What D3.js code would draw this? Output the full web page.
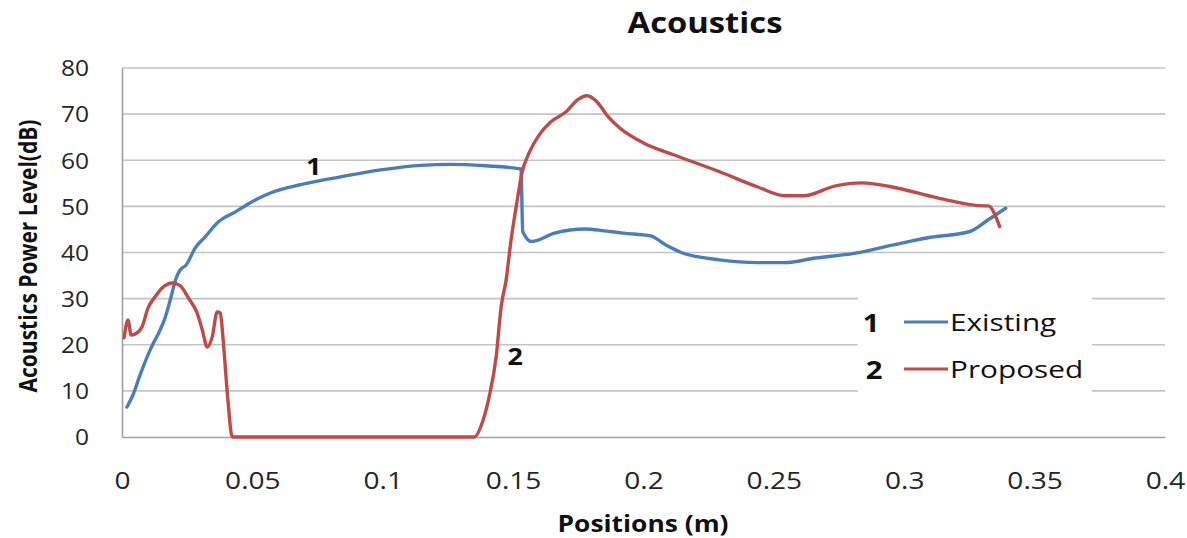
<!DOCTYPE html>
<html><head><meta charset="utf-8">
<script src="https://cdn.jsdelivr.net/npm/d3@7"></script>
<style>
body{margin:0;background:#fff;}
svg{display:block;}
</style></head>
<body>
<svg id="chart" width="1187" height="538"></svg>
<script>
const title = "Acoustics";
const xLabel = "Positions (m)";
const yLabel = "Acoustics Power Level(dB)";
const seriesNames = ["Existing", "Proposed"];
const seriesColors = ["#4a7ebb", "#be4b48"];
const seriesTags = ["1", "2"];
const xTicks = [0, 0.05, 0.1, 0.15, 0.2, 0.25, 0.3, 0.35, 0.4];
const yTicks = [0, 10, 20, 30, 40, 50, 60, 70, 80];

const existingX = [0.0019,0.0042,0.0069,0.0108,0.0146,0.0165,0.0185,0.0208,0.0223,0.0246,0.0281,0.0319,0.0369,0.0435,0.0492,0.0569,0.0685,0.0838,0.0992,0.1146,0.1262,0.1394,0.1530,0.1537,0.1571,0.1659,0.1777,0.185,0.1923,0.2027,0.2086,0.2145,0.2292,0.2438,0.2542,0.266,0.2807,0.2954,0.3101,0.3249,0.3322,0.3389];
const existingY = [6.5,9.1,13.4,18.9,23.2,25.8,29.7,34.5,36.2,37.3,41,43.4,46.6,48.8,50.8,52.9,54.7,56.4,57.9,58.9,59.1,58.8,58.1,44.5,42.4,44.2,45.1,44.7,44.2,43.6,41.6,40,38.4,37.8,37.8,38.8,39.8,41.6,43.3,44.5,47.1,49.6];

const proposedX = [0.0008,0.0023,0.0035,0.005,0.0077,0.01,0.0127,0.0154,0.0192,0.0223,0.0254,0.0288,0.0308,0.0327,0.0346,0.0365,0.0377,0.0388,0.0404,0.0423,0.135,0.1385,0.1408,0.1435,0.1454,0.1473,0.1492,0.1512,0.1534,0.1563,0.16,0.1644,0.1703,0.1747,0.1784,0.1821,0.1865,0.1909,0.1998,0.2115,0.2292,0.2438,0.2542,0.2615,0.2733,0.2837,0.2954,0.3131,0.3308,0.3322,0.3366];
const proposedY = [21.5,25.4,22.1,22.3,23.9,28,30.4,32.3,33.4,32.8,30.2,26.9,23.2,19.5,21.7,27.1,26.9,21,9.5,0,0,3.7,8.7,17.4,28.2,34,42.7,50,57.3,61.8,65.5,68.3,70.5,73.1,74,72.7,69.4,67,63.8,61.2,57.5,54.2,52.3,52.3,54.4,55.1,54.2,51.8,50.1,50.1,45.6];

const tagX = [0.0735, 0.1508];
const tagY = [58.8, 17.5];

const svg = d3.select("#chart");
const margin = {left:122, right:22, top:68, bottom:101};
const W = 1187, H = 538;
const SX = 1.17; // horizontal stretch of the reference text
const x = d3.scaleLinear().domain([0,0.4]).range([margin.left, W - margin.right]);
const y = d3.scaleLinear().domain([0,80]).range([H - margin.bottom, margin.top]);

const font = "'Open Sans','Noto Sans',sans-serif";

// gridlines
svg.append("g").selectAll("line").data(yTicks.filter(d=>d>0)).join("line")
  .attr("x1", x(0)).attr("x2", x(0.4))
  .attr("y1", d=>y(d)).attr("y2", d=>y(d))
  .attr("stroke", "#c4c4c4").attr("stroke-width", 1.6);

// axes
const yAxis = d3.axisLeft(y).tickValues(yTicks).tickSize(0).tickFormat(d3.format("d"));
const gy = svg.append("g").attr("transform", `translate(${x(0)},0)`).call(yAxis);
gy.select(".domain").attr("stroke", "#a0a0a0").attr("stroke-width", 1.6);
gy.selectAll("text").attr("x", 0).attr("dy", null).attr("dominant-baseline", "central")
  .attr("transform", `translate(-33,0) scale(${SX},1)`)
  .attr("font-family", font).attr("font-size", 21).attr("fill", "#262626");

const xAxis = d3.axisBottom(x).tickValues(xTicks).tickSize(0).tickFormat(d => d === 0 ? "0" : String(d));
const gx = svg.append("g").attr("transform", `translate(0,${y(0)})`).call(xAxis);
gx.select(".domain").attr("stroke", "#a0a0a0").attr("stroke-width", 1.6);
gx.selectAll("text").attr("y", 0).attr("dy", null).attr("dominant-baseline", "central")
  .attr("transform", `translate(0,43) scale(${SX},1)`)
  .attr("font-family", font).attr("font-size", 24).attr("fill", "#262626");

// lines
const line = d3.line().x(d=>x(d[0])).y(d=>y(d[1])).curve(d3.curveMonotoneX);
const existing = existingX.map((v,i)=>[v, existingY[i]]);
const proposed = proposedX.map((v,i)=>[v, proposedY[i]]);
[existing, proposed].forEach((data, i) => {
  svg.append("path").datum(data).attr("d", line)
    .attr("fill", "none").attr("stroke", seriesColors[i])
    .attr("stroke-width", 3.4).attr("stroke-linejoin", "round").attr("stroke-linecap", "round");
});

// series tags on chart
svg.append("g").selectAll("text").data(seriesTags).join("text")
  .attr("transform", (d,i)=>`translate(${x(tagX[i])},${y(tagY[i])}) scale(${SX},1)`)
  .attr("text-anchor", "middle").attr("dominant-baseline", "central")
  .attr("font-family", font).attr("font-weight", 700).attr("font-size", 23)
  .attr("fill", "#111").text(d=>d);

// legend
const lg = svg.append("g");
lg.append("rect").attr("x", 858).attr("y", 292).attr("width", 234).attr("height", 104).attr("fill", "#fff");
seriesNames.forEach((name, i) => {
  const cy = 322 + i*47;
  lg.append("text").attr("transform", `translate(${871 + i*3},${cy}) scale(${SX},1)`)
    .attr("text-anchor", "middle").attr("dominant-baseline", "central")
    .attr("font-family", font).attr("font-weight", 700).attr("font-size", 25).attr("fill", "#111").text(seriesTags[i]);
  lg.append("line").attr("x1", 904).attr("x2", 948).attr("y1", cy).attr("y2", cy)
    .attr("stroke", seriesColors[i]).attr("stroke-width", 3);
  lg.append("text").attr("transform", `translate(950,${cy}) scale(1.24,1)`).attr("dominant-baseline", "central")
    .attr("font-family", font).attr("font-size", 24).attr("fill", "#111").text(name);
});

// titles
svg.append("text").attr("transform", `translate(705,22) scale(${SX},1)`).attr("text-anchor", "middle").attr("dominant-baseline", "central")
  .attr("font-family", font).attr("font-weight", 700).attr("font-size", 28).attr("fill", "#111").text(title);
svg.append("text").attr("transform", `translate(643,522) scale(1.1,1)`).attr("text-anchor", "middle").attr("dominant-baseline", "central")
  .attr("font-family", font).attr("font-weight", 700).attr("font-size", 24).attr("fill", "#111").text(xLabel);
svg.append("text").attr("transform", `translate(28,256) scale(${SX},1) rotate(-90)`).attr("text-anchor", "middle").attr("dominant-baseline", "central")
  .attr("font-family", font).attr("font-weight", 700).attr("font-size", 21).attr("fill", "#111").text(yLabel);
</script>
</body></html>
